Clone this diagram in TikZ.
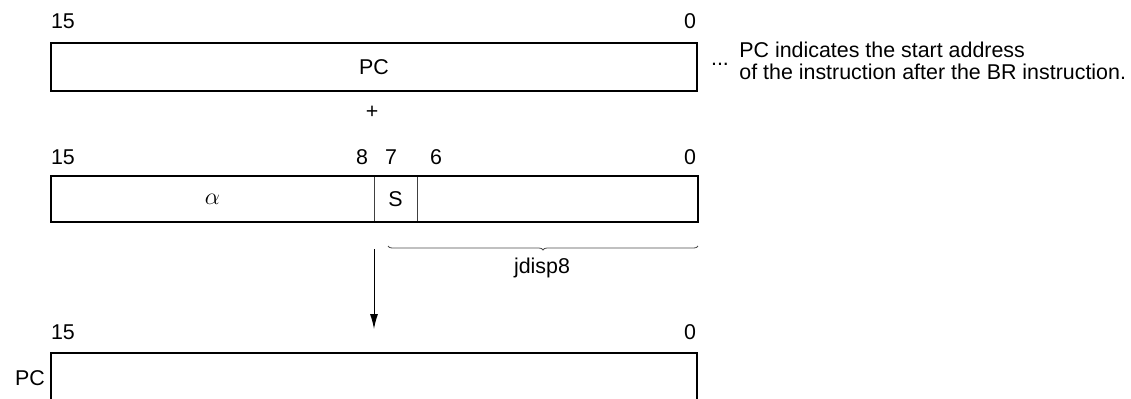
\documentclass[tikz,border=0pt]{standalone}
\usepackage{fontspec}
\setmainfont{Liberation Sans}
\usetikzlibrary{arrows.meta, positioning, decorations.pathreplacing}

\tikzset{
  field/.style={draw=black!75, line width=0.4pt, minimum height=23pt, inner sep=0pt, outer sep=0pt},
  frame/.style={line width=1pt},
  bitno/.style={inner sep=0pt},
}

\begin{document}
\begin{tikzpicture}[x=0.5pt, y=-0.5pt, font=\fontsize{10.7}{11}\selectfont]
\useasboundingbox (0,0) rectangle (1131,398);

% Program counter
\node[bitno] (pc15) at (63,21) {15};
\node[bitno] (pc0) at (690,21) {0};
\node[inner sep=0pt, outer sep=0pt, minimum width=323pt, minimum height=24pt] (pc) at (374,67) {PC};
\draw[frame] (pc.north west) rectangle (pc.south east);
\node[bitno] (dots) at (720,64) {...};
\node[bitno, align=left, anchor=west] (note) at (739,61) {PC indicates the start address\\of the instruction after the BR instruction.};

\node[bitno] (plus) at (372,112) {+};

% Displacement
\node[bitno] (d15) at (63,157) {15};
\node[bitno] (d8) at (362,157) {8};
\node[bitno] (d7) at (391,157) {7};
\node[bitno] (d6) at (436,157) {6};
\node[bitno] (d0) at (690,157) {0};
\node[field, minimum width=161.5pt] (hi) at (212.5,199) {\fontsize{11.5}{12}\selectfont$\alpha$};
\node[field, minimum width=21.5pt, right=0pt of hi] (sbit) {S};
\node[field, minimum width=140.5pt, right=0pt of sbit] (disp) {};
\draw[frame] (hi.north west) rectangle (disp.south east);

\coordinate (brl) at (388,246);
\coordinate (brr) at (698,246);
\draw[draw=black!70, line width=0.4pt, decorate, decoration={brace, mirror, amplitude=2pt}] (brl) -- (brr);
\node[bitno] (jdisp) at (542,268) {jdisp8};

% Result
\coordinate (arrtop) at (374,249);
\coordinate (arrtip) at (374,329);
\draw[line width=0.5pt, -{Latex[length=7.5pt, width=4pt]}] (arrtop) -- (arrtip);

\node[bitno] (n15) at (63,332) {15};
\node[bitno] (n0) at (690,332) {0};
\node[bitno] (npclabel) at (30,378) {PC};
\coordinate (npcsw) at (51,404);
\coordinate (npcnw) at (51,353);
\coordinate (npcne) at (697,353);
\coordinate (npcse) at (697,404);
\draw[frame] (npcsw) -- (npcnw) -- (npcne) -- (npcse);
\end{tikzpicture}
\end{document}
